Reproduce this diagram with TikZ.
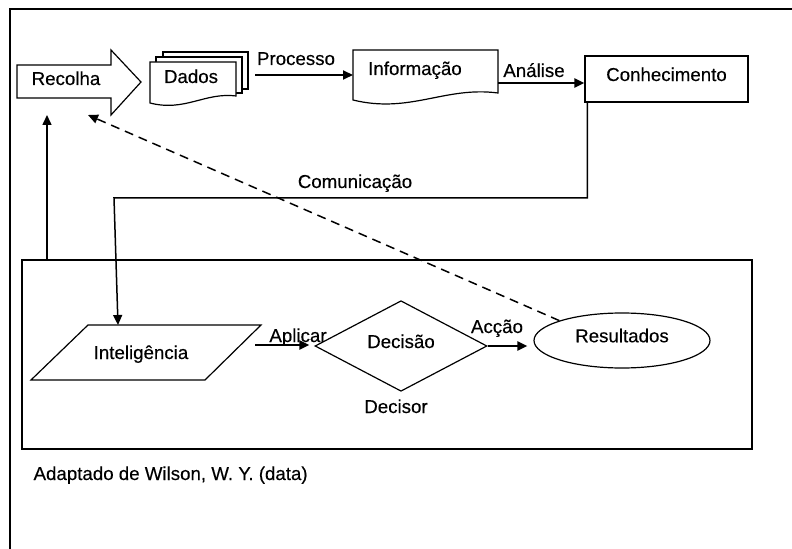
\documentclass[tikz,border=0pt]{standalone}
\usepackage{fontspec}
\setmainfont{Liberation Sans}[UprightFeatures={FakeBold=0.3}]
\usetikzlibrary{arrows.meta,shapes.geometric}

\begin{document}
\begin{tikzpicture}[
    x=1bp, y=-1bp,
    >={Triangle[length=10bp,width=9bp]},
    line width=1.2bp,
    txt/.style={
        font=\fontsize{18.7bp}{20bp}\selectfont,
        inner sep=0pt,
        anchor=base
    },
    box/.style={
        draw,
        font=\fontsize{18.7bp}{20bp}\selectfont,
        inner sep=0pt
    },
    flow/.style={->, line width=2bp}
]
\useasboundingbox (0,0) rectangle (792,549);

% frame
\draw (10,549) -- (10,9) -- (792,9);

% group box
\node[draw, minimum width=730bp, minimum height=189bp] (grupo) at (387,354.5) {};

% recolha arrow
\draw[fill=white] (17,65) -- (111,65) -- (111,50) -- (141,82) -- (111,115)
    -- (111,98) -- (17,98) -- cycle;
\node[txt] (recolha) at (66,85) {Recolha};
\coordinate (recolhaS) at (47,115);
\coordinate (recolhaD) at (88,115);

% dados (stacked documents)
\draw[fill=white] (163,52) rectangle (248,89);
\draw[fill=white] (156,57) rectangle (242,93);
\draw[fill=white] (150,62) -- (236,62) -- (236,96)
    .. controls (205,92) and (185,112) .. (150,103) -- cycle;
\node[txt] (dados) at (191,83) {Dados};
\coordinate (dadosE) at (255,75);

% informacao (document)
\draw[fill=white] (353,50) -- (498,50) -- (498,93)
    .. controls (445,86) and (410,114) .. (353,100) -- cycle;
\node[txt] (info) at (415,75) {Informação};
\coordinate (infoW) at (353,75);
\coordinate (infoE) at (498,83);

% conhecimento
\node[box, minimum width=163bp, minimum height=46bp, text depth=9.5bp]
    (conhec) at (666.5,79) {Conhecimento};

% inteligencia (parallelogram)
\draw (88,325) -- (261,325) -- (205,380) -- (31,380) -- cycle;
\node[txt] (intel) at (141,359) {Inteligência};
\coordinate (intelN) at (118,325);
\coordinate (intelE) at (255,345);

% decisao
\node[box, diamond, minimum width=172bp, minimum height=72bp, text depth=9.5bp]
    (decisao) at (401,346) {Decisão};

% resultados
\node[box, ellipse, minimum width=176bp, minimum height=55bp, text depth=10bp]
    (result) at (622,340.5) {Resultados};

% connectors
\draw[flow] (dadosE) -- (infoW);
\node[txt] (processo) at (296,65) {Processo};

\draw[flow] (infoE) -- (conhec.west |- infoE);
\node[txt] (analise) at (534,77) {Análise};

\draw[->, line width=1.5bp] ([xshift=3bp]conhec.south west) |- (114,198) -- (intelN);
\node[txt] (comunic) at (355,188) {Comunicação};

\draw[flow, shorten >=5bp] (intelE) -- (decisao.west |- intelE);
\node[txt] (aplicar) at (298,342) {Aplicar};

\draw[flow, shorten >=6bp] (decisao.east) -- (decisao.east -| result.west);
\node[txt] (accao) at (497,333) {Acção};

\draw[->, dashed, dash pattern=on 9bp off 6bp, line width=1.5bp]
    (result.north west) -- (recolhaD);

\draw[->, line width=1.5bp] (grupo.north -| recolhaS) -- (recolhaS);

\node[txt] (decisor) at (396,413) {Decisor};
\node[txt, anchor=base west] (fonte) at (33,480) {Adaptado de Wilson, W. Y. (data)};

\end{tikzpicture}
\end{document}
